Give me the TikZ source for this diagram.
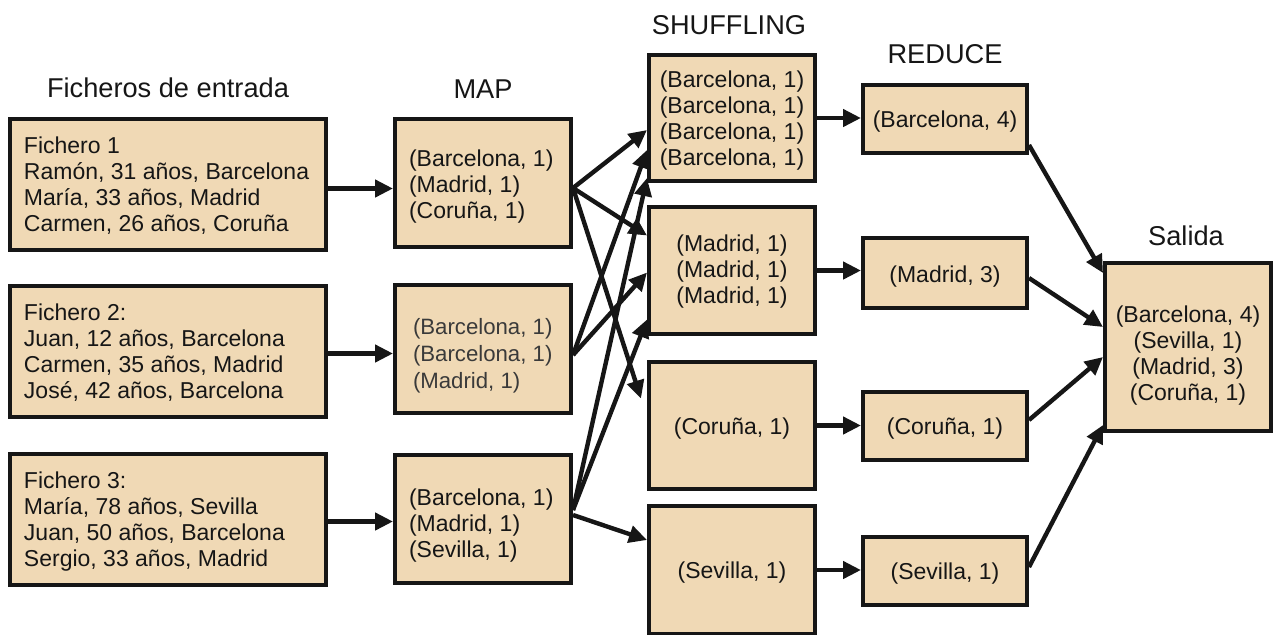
\documentclass[tikz,border=0pt]{standalone}
\usepackage{fontspec}
\setmainfont{Liberation Sans}
\usetikzlibrary{arrows.meta}
\definecolor{boxfill}{HTML}{F0D9B5}
\definecolor{ink}{HTML}{161616}
\definecolor{softink}{HTML}{3A3A3A}
% box text: lowered by #1 without changing the box size, set in a #2 wide paragraph
\newcommand\boxtext[3]{\raisebox{-#1}[\height][\depth]{\parbox{#2}{#3}}}
\begin{document}
\begin{tikzpicture}[x=0.5pt,y=-0.5pt,
  box/.style={draw=ink, line width=2pt, fill=boxfill, text=ink, inner sep=0pt,
    font=\fontsize{11.5}{13}\selectfont},
  infile/.style={box, minimum width=158pt, minimum height=65.5pt},
  mapbox/.style={box, minimum width=88pt, minimum height=64pt},
  shufbox/.style={box, minimum width=83pt, minimum height=63.5pt},
  redbox/.style={box, minimum width=82pt, minimum height=34pt},
  outbox/.style={box, minimum width=83pt, minimum height=84pt},
  title/.style={font=\fontsize{13.6}{16}\selectfont, text=ink, anchor=base, inner sep=0pt},
  flow/.style={draw=ink, line width=2.2pt, -{Triangle[length=9pt,width=8.5pt]}}
]
\useasboundingbox (0,0) rectangle (1274,634);
\clip (0,0) rectangle (1274,634);

% column headings
\node[title] (hin)  at (168,97)  {Ficheros de entrada};
\node[title] (hmap) at (483,98)  {MAP};
\node[title] (hshu) at (729,34)  {SHUFFLING};
\node[title] (hred) at (945,63)  {REDUCE};
\node[title] (hout) at (1186,245) {Salida};

% input files
\node[infile] (i1) at (168,184.5) {\boxtext{0.75pt}{144pt}{\raggedright Fichero 1\\Ramón, 31 años, Barcelona\\María, 33 años, Madrid\\Carmen, 26 años, Coruña}};
\node[infile] (i2) at (168,351.5) {\boxtext{0.5pt}{144pt}{\raggedright Fichero 2:\\Juan, 12 años, Barcelona\\Carmen, 35 años, Madrid\\José, 42 años, Barcelona}};
\node[infile] (i3) at (168,519.5) {\boxtext{1.2pt}{144pt}{\raggedright Fichero 3:\\María, 78 años, Sevilla\\Juan, 50 años, Barcelona\\Sergio, 33 años, Madrid}};

% map outputs
\node[mapbox] (m1) at (483,183) {\boxtext{2pt}{74pt}{\raggedright (Barcelona, 1)\\(Madrid, 1)\\(Coruña, 1)}};
\node[mapbox, text=softink, font=\fontsize{11.1}{13.5}\selectfont] (m2) at (483,349)
  {\boxtext{3.5pt}{72pt}{\raggedright\hspace*{1pt}(Barcelona, 1)\\\hspace*{1pt}(Barcelona, 1)\\\hspace*{1pt}(Madrid, 1)}};
\node[mapbox] (m3) at (483,519) {\boxtext{3.5pt}{74pt}{\raggedright (Barcelona, 1)\\(Madrid, 1)\\(Sevilla, 1)}};

% shuffled groups
\node[shufbox, minimum height=63pt] (s1) at (732,118) {\boxtext{1.5pt}{80pt}{\centering (Barcelona, 1)\\(Barcelona, 1)\\(Barcelona, 1)\\(Barcelona, 1)}};
\node[shufbox] (s2) at (732,270.5) {\boxtext{0.5pt}{80pt}{\centering (Madrid, 1)\\(Madrid, 1)\\(Madrid, 1)}};
\node[shufbox] (s3) at (732,425.5) {\boxtext{1.5pt}{80pt}{\centering (Coruña, 1)}};
\node[shufbox, minimum height=64pt] (s4) at (732,570) {\boxtext{1.5pt}{80pt}{\centering (Sevilla, 1)}};

% reduced counts
\node[redbox] (r1) at (945,119) {\boxtext{1.5pt}{80pt}{\centering (Barcelona, 4)}};
\node[redbox, minimum height=35pt] (r2) at (945,273) {\boxtext{2pt}{80pt}{\centering (Madrid, 3)}};
\node[redbox] (r3) at (945,426) {\boxtext{1.5pt}{80pt}{\centering (Coruña, 1)}};
\node[redbox] (r4) at (945,571) {\boxtext{1.5pt}{80pt}{\centering (Sevilla, 1)}};

% final output
\node[outbox] (out) at (1188,347) {\boxtext{4.5pt}{82pt}{\centering (Barcelona, 4)\\(Sevilla, 1)\\(Madrid, 3)\\(Coruña, 1)}};

% input -> map
\draw[flow] ([yshift=-2pt]i1.east) -- ([yshift=-2pt]i1.east -| m1.west);
\draw[flow] ([yshift=-1pt]i2.east) -- ([yshift=-1pt]i2.east -| m2.west);
\draw[flow] ([yshift=-1pt]i3.east) -- ([yshift=-1pt]i3.east -| m3.west);

% map -> shuffle
\draw[flow] ([yshift=-2.5pt]m1.east) -- ([yshift=-6pt]s1.west);
\draw[flow] ([yshift=-2.5pt]m1.east) -- ([yshift=17.5pt]s2.west);
\draw[flow] ([yshift=-2.5pt]m1.east) -- ([yshift=13.5pt,xshift=-3pt]s3.west);
\draw[flow] ([yshift=-3pt]m2.east) -- ([yshift=-16pt]s1.west);
\draw[flow] ([yshift=-3pt]m2.east) -- ([yshift=-1pt]s2.west);
\draw[flow] ([yshift=4.5pt]m3.east) -- ([yshift=-30pt]s1.west);
\draw[flow] ([yshift=4.5pt]m3.east) -- ([yshift=-24.5pt]s2.west);
\draw[flow] ([yshift=2pt]m3.east) -- ([yshift=15pt]s4.west);

% shuffle -> reduce
\draw[flow] (s1.east) -- (s1.east -| r1.west);
\draw[flow] (s2.east) -- (s2.east -| r2.west);
\draw[flow] (s3.east) -- (s3.east -| r3.west);
\draw[flow] (s4.east) -- (s4.east -| r4.west);

% reduce -> output
\draw[flow] ([yshift=-13pt]r1.east) -- ([yshift=37pt]out.west);
\draw[flow] ([yshift=-2.5pt]r2.east) -- ([yshift=10pt]out.west);
\draw[flow] ([yshift=3pt]r3.east) -- ([yshift=-5pt]out.west);
\draw[flow] ([yshift=2pt]r4.east) -- ([yshift=-39pt]out.west);
\end{tikzpicture}
\end{document}
